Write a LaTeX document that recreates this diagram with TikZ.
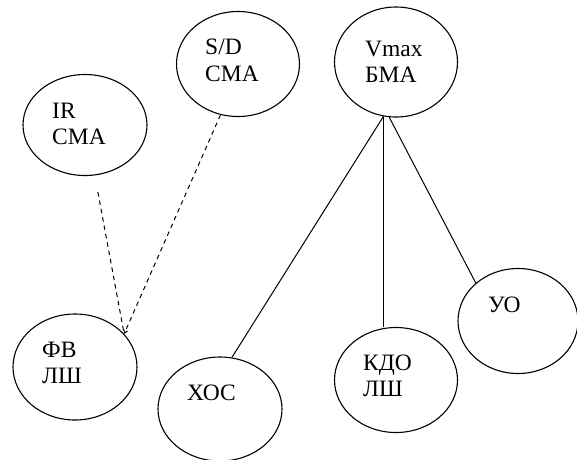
\documentclass[tikz,border=0pt]{standalone}
\usepackage{fontspec}
\setmainfont{Liberation Serif}
\usetikzlibrary{shapes.geometric,arrows.meta}
\begin{document}
\begin{tikzpicture}[x=1pt,y=-1pt,
  oval/.style={draw,ellipse,line width=1.1pt,inner sep=0pt},
  lbl/.style={anchor=base west,inner sep=0pt,font=\fontsize{23.5}{26}\selectfont},
  solidlink/.style={line width=1pt},
  dashlink/.style={line width=1pt,dash pattern=on 4.5pt off 4pt}]
\useasboundingbox (0,0) rectangle (577,459);
% ellipses
\node[oval,minimum width=124pt,minimum height=101pt] (ir) at (85,125) {};
\node[oval,minimum width=123pt,minimum height=105pt] (sd) at (238,64) {};
\node[oval,minimum width=123pt,minimum height=110pt] (vmax) at (396,62) {};
\node[oval,minimum width=124pt,minimum height=106pt] (fv) at (75,367) {};
\node[oval,minimum width=124pt,minimum height=104pt] (xoc) at (220,409) {};
\node[oval,minimum width=123pt,minimum height=105pt] (kdo) at (396,380) {};
\node[oval,minimum width=120pt,minimum height=105pt] (uo) at (518,321) {};
% texts
\node[lbl] (t1) at (52,118) {IR};
\node[lbl] (t2) at (52,144) {СМА};
\node[lbl] (t3) at (205,54) {S/D};
\node[lbl] (t4) at (205,81) {СМА};
\node[lbl] (t5) at (365,56) {Vmax};
\node[lbl] (t6) at (365,82) {БМА};
\node[lbl] (t7) at (42,357) {ФВ};
\node[lbl] (t8) at (42,383) {ЛШ};
\node[lbl] (t9) at (187,400) {ХОС};
\node[lbl] (t10) at (363,370) {КДО};
\node[lbl] (t11) at (363,396) {ЛШ};
\node[lbl] (t12) at (488,312) {УО};
% connectors
\draw[dashlink,shorten <=17pt] (ir.-79) -- (fv.34);
\draw[dashlink,-{Straight Barb[length=3pt,width=4pt]}] (sd.-109) -- (fv.34);
\draw[solidlink] (vmax.-103) -- (xoc.77);
\draw[solidlink] (vmax.-103) -- (vmax.-103 |- kdo.north);
\draw[solidlink] (vmax.-97) -- (uo.138);
\end{tikzpicture}
\end{document}
